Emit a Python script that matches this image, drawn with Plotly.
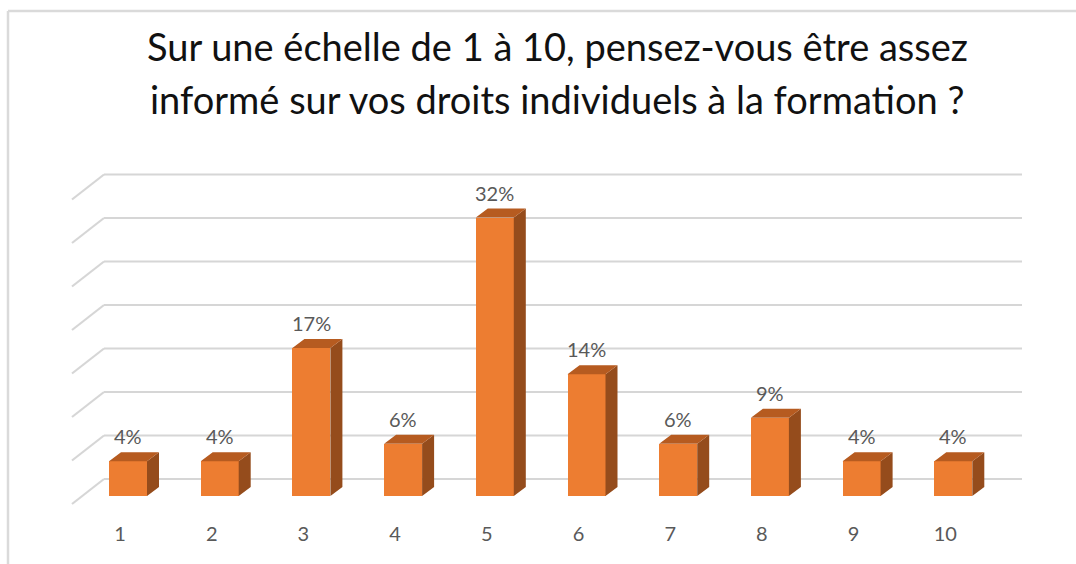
import plotly.graph_objects as go

# ---------------- data ----------------
categories = ["1", "2", "3", "4", "5", "6", "7", "8", "9", "10"]
values = [4, 4, 17, 6, 32, 14, 6, 9, 4, 4]          # percent
grid_values = [0, 5, 10, 15, 20, 25, 30, 35]
title_lines = ["Sur une échelle de 1 à 10, pensez-vous être assez",
               "informé sur vos droits individuels à la formation ?"]

# ---------------- geometry / style ----------------
W, H = 1076, 564
MB = 44
PLOT_H = H - MB
PX_CAT = 91.7          # px per category
PX_PCT = 8.7           # px per percent
X0_PX = 128            # pixel of category 1 centre
Y0_PX = 496            # pixel of value 0 (bar front base)

x_range = [1 + (0 - X0_PX) / PX_CAT, 1 + (W - X0_PX) / PX_CAT]
y_range = [(Y0_PX - PLOT_H) / PX_PCT, (Y0_PX - 0) / PX_PCT]

bar_w = 38 / PX_CAT
dx = 12 / PX_CAT
dy = 9 / PX_PCT

wall_y_off = 17 / PX_PCT
wall_x0 = 1 + (104 - X0_PX) / PX_CAT
wall_x1 = 1 + (1022 - X0_PX) / PX_CAT
front_x = 1 + (72 - X0_PX) / PX_CAT
front_y_off = wall_y_off - 25 / PX_PCT

FRONT = "#ED7D31"
TOP = "#B65B20"
SIDE = "#954C1C"
GRID = "#d6d6d6"
FONT = "Lato"

xs = list(range(1, len(categories) + 1))

fig = go.Figure()

# back wall gridlines + side wall diagonals (drawn below all traces)
for g in grid_values:
    fig.add_shape(type="line", xref="x", yref="y", layer="below",
                  x0=wall_x0, x1=wall_x1, y0=g + wall_y_off, y1=g + wall_y_off,
                  line=dict(color=GRID, width=2.2))
    fig.add_shape(type="line", xref="x", yref="y", layer="below",
                  x0=front_x, x1=wall_x0, y0=g + front_y_off, y1=g + wall_y_off,
                  line=dict(color=GRID, width=2.2))

# front faces
fig.add_trace(go.Bar(x=xs, y=values, width=bar_w, marker=dict(color=FRONT, line=dict(width=0)),
                     showlegend=False, hovertemplate="%{x}: %{y}%<extra></extra>"))

# side faces
sx, sy = [], []
for x, v in zip(xs, values):
    r = x + bar_w / 2
    sx += [r, r + dx, r + dx, r, r, None]
    sy += [0, dy, v + dy, v, 0, None]
fig.add_trace(go.Scatter(x=sx, y=sy, mode="lines", fill="toself",
                         fillcolor=SIDE, line=dict(width=0, color=SIDE),
                         hoverinfo="skip", showlegend=False))

# top faces
tx, ty = [], []
for x, v in zip(xs, values):
    l, r = x - bar_w / 2, x + bar_w / 2
    tx += [l, r, r + dx, l + dx, l, None]
    ty += [v, v, v + dy, v + dy, v, None]
fig.add_trace(go.Scatter(x=tx, y=ty, mode="lines", fill="toself",
                         fillcolor=TOP, line=dict(width=0, color=TOP),
                         hoverinfo="skip", showlegend=False))

# data labels
for x, v in zip(xs, values):
    fig.add_annotation(x=x, y=v, text=f"{v}%", showarrow=False, yanchor="middle",
                       yshift=25, font=dict(family=FONT, size=20, color="#595959"))

# title
for line, ypx in zip(title_lines, [46, 99]):
    fig.add_annotation(xref="paper", yref="paper", x=557 / W, y=(PLOT_H - ypx) / PLOT_H,
                       text=line, showarrow=False, xanchor="center", yanchor="middle",
                       font=dict(family=FONT, size=38, color="#111111"))

# frame
fig.add_shape(type="line", xref="paper", yref="paper", x0=8 / W, x1=1.0,
              y0=(PLOT_H - 11) / PLOT_H, y1=(PLOT_H - 11) / PLOT_H,
              line=dict(color="#dadada", width=2.5))
fig.add_shape(type="line", xref="paper", yref="paper", x0=8 / W, x1=8 / W,
              y0=(PLOT_H - 11) / PLOT_H, y1=(PLOT_H - H) / PLOT_H,
              line=dict(color="#dadada", width=2.5))

fig.update_layout(
    width=W, height=H,
    margin=dict(l=0, r=0, t=0, b=MB),
    paper_bgcolor="white", plot_bgcolor="rgba(0,0,0,0)",
    bargap=0,
    xaxis=dict(range=x_range, tickmode="array", tickvals=xs, ticktext=categories,
               showgrid=False, zeroline=False, showline=False, ticks="",
               ticklabelshift=-8,
               tickfont=dict(family=FONT, size=20, color="#595959"), fixedrange=True),
    yaxis=dict(range=y_range, showgrid=False, zeroline=False, showline=False,
               showticklabels=False, ticks="", fixedrange=True),
)

fig.write_html("out.html", config={"displayModeBar": False},
               post_script="document.body.style.margin='0';")
